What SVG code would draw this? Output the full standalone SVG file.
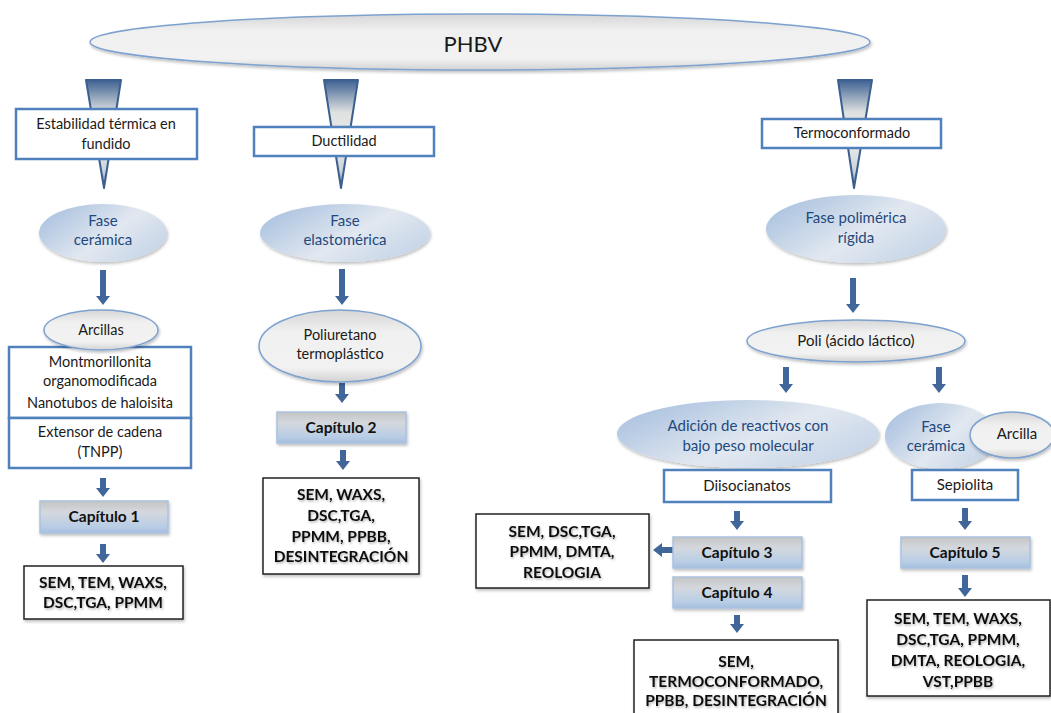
<svg xmlns="http://www.w3.org/2000/svg" width="1051" height="713" viewBox="0 0 1051 713">
<defs>
<linearGradient id="gGray" x1="0" y1="0" x2="0" y2="1">
<stop offset="0" stop-color="#d6d6d6"/><stop offset="0.3" stop-color="#f0f0f0"/><stop offset="0.8" stop-color="#f2f2f2"/><stop offset="1" stop-color="#d2d2d2"/>
</linearGradient>
<linearGradient id="gFase" x1="0" y1="0.2" x2="1" y2="0.8">
<stop offset="0" stop-color="#a9c1df"/><stop offset="0.55" stop-color="#e2e8f0"/><stop offset="1" stop-color="#c3d3e7"/>
</linearGradient>
<linearGradient id="gCap" x1="0" y1="0" x2="0" y2="1">
<stop offset="0" stop-color="#c4c4c4"/><stop offset="0.35" stop-color="#d4d8de"/><stop offset="0.8" stop-color="#b9cde5"/><stop offset="1" stop-color="#a5bfde"/>
</linearGradient>
<linearGradient id="gFun" x1="0" y1="0" x2="0" y2="1">
<stop offset="0" stop-color="#3d6193"/><stop offset="0.3" stop-color="#dfe1e0"/><stop offset="0.6" stop-color="#ebebe6"/><stop offset="0.85" stop-color="#c8d2dd"/><stop offset="1" stop-color="#4a6fa0"/>
</linearGradient>
<filter id="sh" x="-10%" y="-10%" width="120%" height="130%">
<feDropShadow dx="1" dy="2" stdDeviation="1.5" flood-color="#000" flood-opacity="0.25"/>
</filter>
<filter id="tsh" x="-5%" y="-20%" width="110%" height="150%">
<feDropShadow dx="1" dy="1.5" stdDeviation="1" flood-color="#000" flood-opacity="0.3"/>
</filter>
<style>
.t{font-family:Lato,"Liberation Sans",sans-serif;font-size:14.5px;fill:#1a1a1a;text-anchor:middle}
.tf{font-family:Lato,"Liberation Sans",sans-serif;font-size:15px;fill:#1f497d;text-anchor:middle}
.tb{font-family:Lato,"Liberation Sans",sans-serif;font-size:15.5px;font-weight:bold;fill:#111;text-anchor:middle}
.box{fill:#fff;stroke:#4f81bd;stroke-width:2.5}
.res{fill:#fff;stroke:#222;stroke-width:1.5}
.cap{fill:url(#gCap);stroke:#a9c2e0;stroke-width:1.5}
.gel{fill:url(#gGray);stroke:#7da2d0;stroke-width:1.5}
.fel{fill:url(#gFase)}
.fun{fill:url(#gFun);stroke:#3b5f8f;stroke-width:2;stroke-linejoin:round}
.arr{fill:#41679a}
</style>
</defs>
<rect width="1051" height="713" fill="#fff"/>

<g id="phbv">
<ellipse cx="480" cy="42" rx="390" ry="28" class="gel" filter="url(#sh)"/>
<text x="473" y="52" class="t" style="font-size:22px">PHBV</text>
</g>

<g id="connectors">
<polygon class="fun" points="86,80 121,80 104,188"/>
<polygon class="fun" points="324,80 358,80 341,188"/>
<polygon class="fun" points="838,80 872,80 854,188"/>
<path class="arr" d="M100 270H106V296H110L103 305L96 296H100Z"/>
<path class="arr" d="M100 478H106V488H110L103 497L96 488H100Z"/>
<path class="arr" d="M100 544H106V554H110L103 563L96 554H100Z"/>
<path class="arr" d="M339 269H345V296H349L342 305L335 296H339Z"/>
<path class="arr" d="M339 383H345V394H349L342 403L335 394H339Z"/>
<path class="arr" d="M340 450H346V461H350L343 470L336 461H340Z"/>
<path class="arr" d="M850 278H856V304H860L853 313L846 304H850Z"/>
<path class="arr" d="M783 367H789V384H793L786 393L779 384H783Z"/>
<path class="arr" d="M936 367H942V384H946L939 393L932 384H936Z"/>
<path class="arr" d="M734 511H740V521H744L737 530L730 521H734Z"/>
<path class="arr" d="M734 615H740V624H744L737 633L730 624H734Z"/>
<path class="arr" d="M962 508H968V521H972L965 530L958 521H962Z"/>
<path class="arr" d="M962 575H968V588H972L965 597L958 588H962Z"/>
<path class="arr" d="M673 547H662V543L653 550L662 557V553H673Z"/>
</g>

<g id="estabilidad">
<rect x="16" y="109" width="181" height="50" class="box"/>
<text x="106" y="129" class="t">Estabilidad térmica en</text>
<text x="106" y="149" class="t">fundido</text>
</g>
<g id="ductilidad">
<rect x="254" y="127" width="180" height="29" class="box"/>
<text x="344" y="146" class="t">Ductilidad</text>
</g>
<g id="termoconformado">
<rect x="762" y="119" width="179" height="29" class="box"/>
<text x="852" y="138" class="t">Termoconformado</text>
</g>

<g id="fase-ceramica-1">
<ellipse cx="103" cy="233" rx="64" ry="29" class="fel" filter="url(#sh)"/>
<text x="103" y="226" class="tf">Fase</text>
<text x="103" y="245" class="tf">cerámica</text>
</g>
<g id="fase-elastomerica">
<ellipse cx="345" cy="233" rx="85" ry="29" class="fel" filter="url(#sh)"/>
<text x="345" y="226" class="tf">Fase</text>
<text x="345" y="245" class="tf">elastomérica</text>
</g>
<g id="fase-polimerica">
<ellipse cx="856" cy="229" rx="90" ry="34" class="fel" filter="url(#sh)"/>
<text x="856" y="223" class="tf">Fase polimérica</text>
<text x="856" y="243" class="tf">rígida</text>
</g>

<g id="arcillas">
<rect x="9" y="347" width="182" height="71" class="box"/>
<ellipse cx="101" cy="330" rx="57" ry="20" class="gel" filter="url(#sh)"/>
<text x="101" y="335" class="t">Arcillas</text>
<text x="100" y="367" class="t">Montmorillonita</text>
<text x="100" y="386" class="t">organomodificada</text>
<text x="100" y="408" class="t">Nanotubos de haloisita</text>
</g>
<g id="extensor">
<rect x="9" y="418" width="182" height="50" class="box"/>
<text x="100" y="437" class="t">Extensor de cadena</text>
<text x="100" y="457" class="t">(TNPP)</text>
</g>
<g id="capitulo1">
<rect x="40" y="501" width="128" height="32" class="cap" filter="url(#sh)"/>
<text x="104" y="522" class="tb">Capítulo 1</text>
</g>
<g id="resultados1">
<rect x="24" y="566" width="159" height="53" class="res" filter="url(#sh)"/>
<g filter="url(#tsh)">
<text x="103" y="588" class="tb">SEM, TEM, WAXS,</text>
<text x="103" y="608" class="tb">DSC,TGA, PPMM</text>
</g>
</g>

<g id="poliuretano">
<ellipse cx="340" cy="346" rx="81" ry="36" class="gel" filter="url(#sh)"/>
<text x="340" y="340" class="t">Poliuretano</text>
<text x="340" y="359" class="t">termoplástico</text>
</g>
<g id="capitulo2">
<rect x="277" y="412" width="129" height="31" class="cap" filter="url(#sh)"/>
<text x="341" y="433" class="tb">Capítulo 2</text>
</g>
<g id="resultados2">
<rect x="263" y="478" width="156" height="96" class="res" filter="url(#sh)"/>
<g filter="url(#tsh)">
<text x="341" y="500" class="tb">SEM, WAXS,</text>
<text x="341" y="521" class="tb">DSC,TGA,</text>
<text x="341" y="542" class="tb">PPMM, PPBB,</text>
<text x="341" y="562" class="tb">DESINTEGRACIÓN</text>
</g>
</g>

<g id="poli-acido-lactico">
<ellipse cx="856" cy="341" rx="109" ry="21" class="gel" filter="url(#sh)"/>
<text x="856" y="346" class="t" style="font-size:15px">Poli (ácido láctico)</text>
</g>
<g id="adicion">
<ellipse cx="748" cy="434" rx="131" ry="34" class="fel" filter="url(#sh)"/>
<text x="748" y="431" class="tf">Adición de reactivos con</text>
<text x="748" y="451" class="tf">bajo peso molecular</text>
</g>
<g id="diisocianatos">
<rect x="664" y="470" width="167" height="32" class="box"/>
<text x="747" y="491" class="t" style="font-size:15px">Diisocianatos</text>
</g>
<g id="fase-ceramica-2">
<ellipse cx="941" cy="436" rx="56" ry="33" class="fel" filter="url(#sh)"/>
<text x="936" y="432" class="tf">Fase</text>
<text x="936" y="451" class="tf">cerámica</text>
</g>
<g id="arcilla">
<ellipse cx="1012" cy="435" rx="42" ry="23" class="gel" filter="url(#sh)"/>
<text x="1017" y="439" class="t" style="font-size:15px">Arcilla</text>
</g>
<g id="sepiolita">
<rect x="912" y="470" width="106" height="30" class="box"/>
<text x="965" y="490" class="t" style="font-size:15px">Sepiolita</text>
</g>
<g id="capitulo3">
<rect x="673" y="537" width="129" height="31" class="cap" filter="url(#sh)"/>
<text x="737" y="558" class="tb">Capítulo 3</text>
</g>
<g id="capitulo4">
<rect x="673" y="577" width="129" height="31" class="cap" filter="url(#sh)"/>
<text x="737" y="598" class="tb">Capítulo 4</text>
</g>
<g id="resultados3">
<rect x="476" y="514" width="173" height="74" class="res" filter="url(#sh)"/>
<g filter="url(#tsh)">
<text x="562" y="537" class="tb">SEM, DSC,TGA,</text>
<text x="562" y="557" class="tb">PPMM, DMTA,</text>
<text x="562" y="578" class="tb">REOLOGIA</text>
</g>
</g>
<g id="resultados4">
<rect x="634" y="640" width="204" height="80" class="res" filter="url(#sh)"/>
<g filter="url(#tsh)">
<text x="736" y="667" class="tb">SEM,</text>
<text x="736" y="687" class="tb">TERMOCONFORMADO,</text>
<text x="736" y="706" class="tb">PPBB, DESINTEGRACIÓN</text>
</g>
</g>
<g id="capitulo5">
<rect x="901" y="537" width="129" height="31" class="cap" filter="url(#sh)"/>
<text x="965" y="558" class="tb">Capítulo 5</text>
</g>
<g id="resultados5">
<rect x="867" y="600" width="183" height="96" class="res" filter="url(#sh)"/>
<g filter="url(#tsh)">
<text x="958" y="624" class="tb">SEM, TEM, WAXS,</text>
<text x="958" y="645" class="tb">DSC,TGA, PPMM,</text>
<text x="958" y="666" class="tb">DMTA, REOLOGIA,</text>
<text x="958" y="687" class="tb">VST,PPBB</text>
</g>
</g>
</svg>
